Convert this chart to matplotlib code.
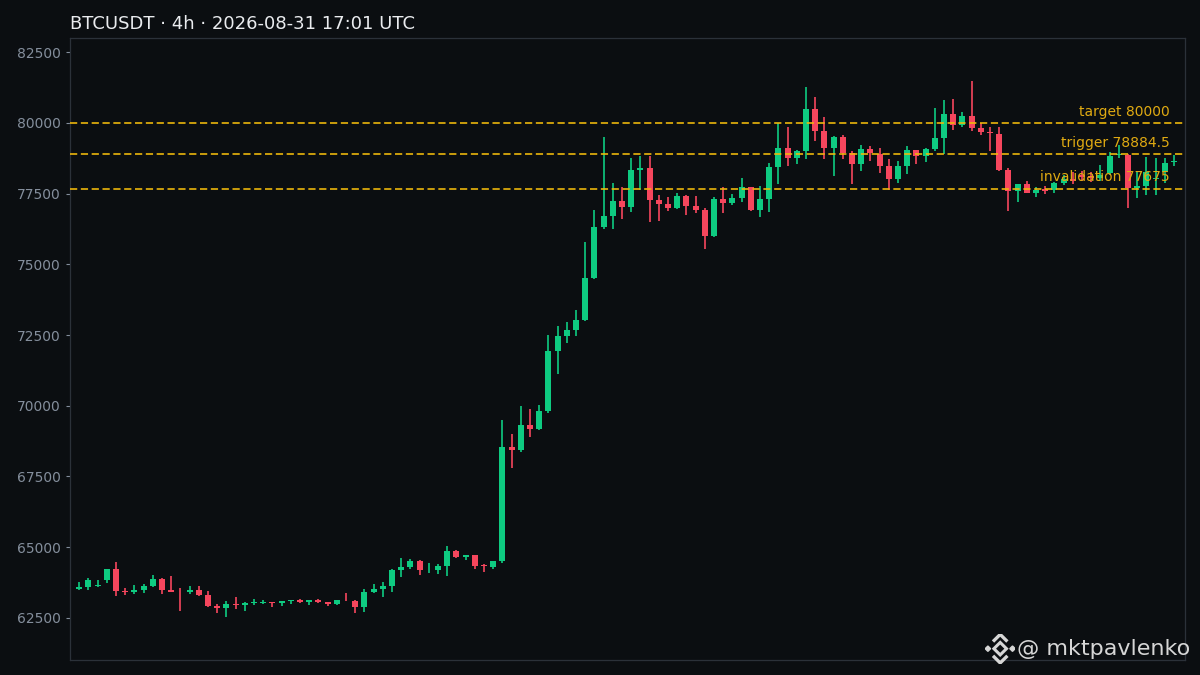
import numpy as np
import matplotlib
matplotlib.use('Agg')
import matplotlib.pyplot as plt
from matplotlib.patches import Polygon


# OHLC, 4h candles
opens = [63524, 63595, 63620, 63842, 64231, 63454, 63430, 63489, 63630, 63877,
         63489, 63460, 63430, 63489, 63312, 62935, 62853, 63006, 62970, 63035,
         63041, 63076, 63041, 63100, 63136, 63065, 63136, 63065, 63006, 63150,
         63100, 62900, 63430, 63536, 63630, 64208, 64302, 64514, 64250, 64196,
         64337, 64867, 64670, 64726, 64360, 64313, 64514, 68542, 68448, 69320,
         69178, 69814, 71934, 72464, 72677, 73030, 74514, 76316, 76705, 77235,
         77023, 78331, 78401, 77270, 77129, 77000, 77412, 77059, 76917, 76010,
         77306, 77176, 77341, 77730, 76929, 77306, 78437, 79108, 78755, 79002,
         80486, 79708, 79120, 79496, 78943, 78554, 79072, 78907, 78460, 78024,
         78483, 79037, 78837, 79072, 79461, 80309, 79920, 80238, 79814, 79685,
         79602, 78330, 77600, 77824, 77530, 77670, 77624, 77860, 78000, 78150,
         78120, 78050, 78212, 78860, 78860, 77700, 77770, 78000, 78271, 78600]
highs = [63760, 63901, 63860, 64231, 64467, 63548, 63654, 63700, 64007, 63900,
         63984, 63548, 63619, 63619, 63454, 62994, 63088, 63242, 63065, 63159,
         63136, 63076, 63100, 63136, 63171, 63136, 63171, 63065, 63136, 63383,
         63136, 63512, 63689, 63760, 64219, 64608, 64573, 64549, 64431, 64408,
         65044, 64890, 64738, 64726, 64420, 64514, 69484, 68990, 69985, 69873,
         70014, 72488, 72806, 72947, 73371, 75774, 76905, 79485, 77859, 77718,
         78743, 78813, 78813, 77435, 77365, 77530, 77435, 77400, 77000, 77388,
         77742, 77471, 78036, 77740, 77777, 78590, 79980, 79862, 79038, 81252,
         80898, 80215, 79520, 79555, 79002, 79225, 79190, 79096, 78707, 78637,
         79167, 79050, 79108, 80509, 80792, 80828, 80392, 81464, 79979, 79838,
         79838, 78389, 77824, 77953, 77718, 77753, 77906, 78150, 78250, 78300,
         78250, 78500, 78954, 79213, 78880, 78250, 78780, 78742, 78742, 78860]
lows = [63500, 63500, 63590, 63748, 63289, 63300, 63360, 63370, 63583, 63336,
        63419, 62759, 63336, 63289, 62900, 62688, 62523, 62806, 62759, 62970,
        63006, 62900, 62935, 63006, 63041, 62970, 63030, 62935, 62970, 63088,
        62688, 62723, 63395, 63254, 63430, 63960, 64243, 64031, 64078, 64066,
        63995, 64620, 64537, 64243, 64137, 64243, 64455, 67812, 68377, 68884,
        69143, 69756, 71110, 72205, 72476, 73006, 74479, 76234, 76234, 76611,
        76835, 77624, 76481, 76517, 76870, 76941, 76752, 76823, 75539, 75951,
        76799, 77094, 77188, 76870, 76658, 76835, 77824, 78460, 78531, 78708,
        79350, 78707, 78118, 78707, 77836, 78283, 78648, 78212, 77624, 77859,
        78177, 78530, 78601, 79013, 78907, 79732, 79861, 79697, 79555, 78990,
        78307, 76870, 77211, 77506, 77364, 77470, 77506, 77800, 77850, 77950,
        77900, 77950, 78150, 78742, 76975, 77353, 77440, 77446, 77859, 78470]
closes = [63595, 63842, 63640, 64231, 63454, 63430, 63489, 63630, 63877, 63489,
          63430, 63440, 63489, 63312, 62935, 62853, 62994, 62970, 63041, 63045,
          63076, 63041, 63100, 63136, 63065, 63136, 63065, 63006, 63136, 63120,
          62900, 63418, 63524, 63630, 64196, 64302, 64514, 64196, 64270, 64337,
          64867, 64655, 64730, 64337, 64325, 64514, 68542, 68448, 69320, 69178,
          69814, 71934, 72464, 72677, 73030, 74514, 76316, 76705, 77235, 77023,
          78331, 78401, 77270, 77141, 77000, 77412, 77070, 76929, 76010, 77306,
          77176, 77341, 77730, 76929, 77306, 78437, 79108, 78755, 79002, 80486,
          79709, 79120, 79496, 78943, 78554, 79072, 78943, 78483, 78024, 78460,
          79037, 78837, 79072, 79461, 80309, 79920, 80238, 79826, 79685, 79626,
          78330, 77600, 77824, 77530, 77624, 77600, 77859, 78000, 77950, 78100,
          78050, 78150, 78836, 78880, 77682, 77760, 78250, 78050, 78566, 78640]

levels = [80000, 78884.5, 77675]
level_labels = ['target 80000', 'trigger 78884.5', 'invalidation 77675']
yticks = [62500, 65000, 67500, 70000, 72500, 75000, 77500, 80000, 82500]

BG = '#0b0e11'
UP = '#0ecb81'
DOWN = '#f6465d'
GOLD = '#f0b90b'

o = np.array(opens, float)
h = np.array(highs, float)
l = np.array(lows, float)
c = np.array(closes, float)
x = np.arange(len(o))
col = np.where(c >= o, UP, DOWN)

fig = plt.figure(figsize=(12, 6.75), dpi=100, facecolor=BG)
ax = fig.add_axes([0.0583, 0.0222, 0.9292, 0.9215], facecolor=BG)

ax.vlines(x, l, h, colors=col, linewidth=1.2, zorder=2)
body = np.maximum(np.abs(c - o), 30)
ax.bar(x, body, bottom=np.minimum(o, c), width=0.66, color=col, linewidth=0, zorder=3)

for lv, lab in zip(levels, level_labels):
    ax.axhline(lv, color=GOLD, linestyle=(0, (4, 2)), linewidth=1.3, alpha=0.9, zorder=4)
    ax.text(0.9865, lv + 150, lab, transform=ax.get_yaxis_transform(), ha='right', va='bottom',
            color='#e0aa12', fontsize=10, zorder=5)

ax.set_xlim(-1, 120.2)
ax.set_ylim(61015, 82995)
ax.set_yticks(yticks)
ax.set_yticklabels([str(t) for t in yticks])
ax.set_xticks([])
ax.tick_params(axis='y', colors='#848e9c', labelsize=10, length=3, width=0.8)
for s in ax.spines.values():
    s.set_color('#2b3139')
    s.set_linewidth(0.9)

fig.text(0.0583, 0.965, 'BTCUSDT · 4h · 2026-08-31 17:01 UTC', color='#eaecef',
         fontsize=13, ha='left', va='center')

# watermark: binance-ish logo + handle
lax = fig.add_axes([0.821, 0.017, 0.025, 0.044])
lax.set_xlim(-1, 1)
lax.set_ylim(-1, 1)
lax.axis('off')
wm = '#d6d6d6'
lax.add_patch(Polygon([[0, 0.42], [0.42, 0], [0, -0.42], [-0.42, 0]], closed=True,
                      fill=False, edgecolor=wm, linewidth=2.2))
for dx in (-0.82, 0.82):
    lax.add_patch(Polygon([[dx, 0.18], [dx + 0.18, 0], [dx, -0.18], [dx - 0.18, 0]],
                          closed=True, color=wm))
for sgn in (1, -1):
    lax.plot([-0.48, 0, 0.48], [sgn * 0.48, sgn * 0.96, sgn * 0.48], color=wm, linewidth=2.4,
             solid_capstyle='butt')
fig.text(0.992, 0.038, '@ mktpavlenko', color=wm, fontsize=16, ha='right', va='center')

fig.savefig('out.png', dpi=100, facecolor=BG)
